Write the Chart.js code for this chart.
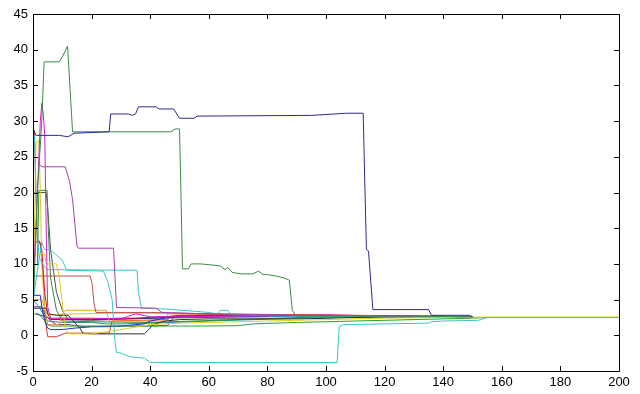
<!DOCTYPE html>
<html>
<head>
<meta charset="utf-8">
<script src="https://cdn.jsdelivr.net/npm/chart.js@4/dist/chart.umd.min.js"></script>
<style>
  body { margin: 0; background: #fff; }
  canvas { display: block; }
</style>
</head>
<body>
<canvas id="runs" width="640" height="394"></canvas>
<script>
// tick values
const xTicks = [0, 20, 40, 60, 80, 100, 120, 140, 160, 180, 200];
const yTicks = [-5, 0, 5, 10, 15, 20, 25, 30, 35, 40, 45];

// one run per pair of arrays (iteration, value)
const navyX = [0, 1, 9, 12, 14, 26, 26.5, 32.5, 34, 35, 36, 42, 43, 48, 50, 55, 56, 95, 107, 112.7, 113.2, 113.8, 114.5, 116, 135, 136, 149, 150];
const navyY = [29, 28, 28, 27.8, 28.3, 28.5, 31, 31, 30.8, 31, 32, 32, 31.7, 31.7, 30.4, 30.4, 30.7, 30.8, 31.1, 31.1, 22, 12, 11.8, 3.6, 3.6, 2.8, 2.8, 2.6];

const greenX = [0, 1.5, 3, 3.8, 9, 10, 11.8, 13.5, 47, 48.5, 50, 50.5, 51, 53, 54, 57, 60, 64, 65.5, 66.5, 68, 71, 75, 77, 78.5, 80, 83, 86, 87.5, 88.5, 89.8, 120, 150];
const greenY = [3, 20, 30, 38.3, 38.3, 39, 40.5, 28.5, 28.5, 28.9, 28.9, 20, 9.3, 9.3, 10, 10, 9.9, 9.7, 9.2, 9.5, 8.8, 8.6, 8.6, 9, 8.5, 8.5, 8.3, 8.0, 7.7, 3.5, 2.7, 2.7, 2.6];

const purpleX = [2, 3, 11, 12.5, 13.5, 14.2, 15, 15.5, 27.5, 28, 28.5, 42, 44, 60, 80, 100, 130, 150];
const purpleY = [24, 23.6, 23.6, 21.5, 19, 16, 12.5, 12.2, 12.2, 8, 3.9, 3.8, 3.2, 3.0, 2.9, 2.8, 2.7, 2.6];

const magentaX = [0, 1.5, 2.5, 3, 3.5, 4, 4.5, 5, 6, 10, 20, 30, 35, 40, 50, 70, 100, 130, 148];
const magentaY = [6, 20, 30, 32.5, 31, 28, 15, 4, 2.4, 2.4, 2.4, 2.3, 3, 2.6, 2.6, 2.7, 2.8, 2.7, 2.6];

const cyanX = [0, 3, 4, 6, 10, 11.5, 24, 25.5, 27, 27.5, 28, 28.5, 30, 33, 38, 40, 103.8, 104.5, 106, 120, 135, 136, 140, 152, 155, 200];
const cyanY = [5, 13, 12, 12, 10.5, 9.1, 9.0, 7.5, 5, 2, -1, -2.4, -2.5, -3, -3.2, -3.8, -3.8, 1.2, 1.5, 1.6, 1.7, 1.9, 2.0, 2.1, 2.48, 2.48];

const cyan2X = [0.5, 1, 2, 4, 4.8, 35.5, 36, 37, 45, 60, 63, 64, 66.5, 67.5, 80, 100, 120, 140, 152];
const cyan2Y = [28, 20, 11, 9.5, 9.2, 9.1, 6, 3.8, 3.7, 3.2, 3.0, 3.5, 3.5, 2.9, 2.7, 2.6, 2.7, 2.6, 2.5];

const brownX = [0, 19.5, 20.2, 20.8, 21.5, 40, 60, 90, 120, 150];
const brownY = [8.3, 8.3, 7.2, 4.5, 3.2, 3.2, 3.0, 2.8, 2.7, 2.6];

const redX = [1, 2, 3, 4, 5, 6, 15, 20, 30, 35, 40, 45, 50, 60, 80, 100, 120, 150];
const redY = [13, 13.3, 12, 6, 3, 2.3, 2.3, 2.3, 2.4, 2.4, 2.5, 2.6, 2.8, 2.85, 2.85, 2.85, 2.75, 2.6];

const blueX = [0, 2.5, 3, 4, 5, 6, 10, 14, 20, 25, 30, 38, 40, 45, 50, 60, 80, 100, 120, 145];
const blueY = [5.6, 5.6, 4, 2, 1, 0.8, 0.8, 1.0, 1.2, 1.2, 1.3, 1.6, 2.0, 2.4, 2.7, 2.8, 2.7, 2.7, 2.6, 2.6];

const blackX = [0, 4.5, 5, 8, 12, 16, 17, 20, 25, 30, 38, 39.5, 41, 45, 50, 60, 80, 92, 120, 150];
const blackY = [3.8, 3.8, 3, 2.8, 2.8, 1.0, 0.3, 0.2, 0.2, 0.2, 0.2, 0.8, 1.5, 2.0, 2.2, 2.3, 2.3, 2.3, 2.6, 2.6];

const yellowX = [0, 4, 4.5, 8, 9, 10, 11, 12, 13, 20, 30, 40, 50, 60, 80, 100, 120, 155, 200];
const yellowY = [11.4, 11.4, 10, 10, 8, 4.5, 1, 0.3, 0.2, 0.2, 0.8, 1.5, 1.7, 1.8, 2.0, 2.2, 2.4, 2.55, 2.55];

const yellow2X = [0, 1, 2, 2.5, 3, 4, 5, 8, 14, 30, 60, 100, 140];
const yellow2Y = [2, 27, 27.3, 20, 10, 3.5, 2.9, 2.9, 3.0, 3.1, 3.0, 2.8, 2.6];

const orangeX = [0, 3, 4, 5, 9, 10, 11, 12, 25, 26, 35, 45, 46, 60, 90, 120, 150];
const orangeY = [5, 5, 3.8, 1.5, 1.5, 3, 3.5, 3.5, 3.5, 2, 2, 2, 3, 3.0, 2.9, 2.7, 2.6];

const greenBX = [0, 2, 3, 5, 6, 15, 30, 50, 60, 70, 75, 90, 110, 130, 150, 155, 200];
const greenBY = [3, 3, 2.5, 1.5, 1.3, 1.3, 1.3, 1.3, 1.3, 1.35, 1.6, 1.8, 2.0, 2.2, 2.4, 2.5, 2.5];

const greenCX = [1.5, 2, 4.8, 5.2, 6, 8, 10, 20, 40, 70, 100, 130];
const greenCY = [10, 20.3, 20.3, 15, 8, 3.5, 2.0, 1.9, 1.8, 2.2, 2.6, 2.6];

const tealX = [0, 2, 5, 10, 20, 25, 30, 40, 60, 100, 150];
const tealY = [5, 4, 2, 1.8, 1.8, 1.6, 1.6, 1.7, 2.0, 2.5, 2.6];

const purple2X = [0, 3, 4, 6, 8, 12, 18, 30, 40, 46, 48, 60, 100, 150];
const purple2Y = [4, 4, 3, 2, 1.5, 1.5, 1.2, 1.3, 1.3, 1.4, 2.5, 2.8, 2.8, 2.6];

const darkBlueX = [1, 5, 6, 20, 30, 40, 45, 60, 100, 140];
const darkBlueY = [3, 2.5, 2.2, 2.2, 2.3, 2.4, 2.5, 2.7, 2.7, 2.6];

const red2X = [0, 0.5, 1, 1.5, 2.5, 3.5, 4, 5, 8, 11, 26, 27, 46, 47, 60, 100];
const red2Y = [29, 28.5, 20, 13.3, 13, 8, 3, -0.2, -0.2, 0.3, 0.3, 2.0, 2.2, 2.6, 2.8, 2.7];

const grayX = [0.5, 4.5, 5, 6, 8, 10, 12, 20, 40, 80, 120];
const grayY = [20, 20, 18, 12, 6, 3.5, 2.2, 2.1, 2.4, 2.6, 2.6];

const runs = [
  [navyX, navyY, '#2b2b8c'],
  [greenX, greenY, '#3d8a45'],
  [purpleX, purpleY, '#a43fb0'],
  [magentaX, magentaY, '#d020d0'],
  [yellowX, yellowY, '#d8d020'],
  [greenBX, greenBY, '#2ca02c'],
  [cyanX, cyanY, '#3cc4c8'],
  [cyan2X, cyan2Y, '#3cc4c8'],
  [brownX, brownY, '#c0504a'],
  [redX, redY, '#e8101a'],
  [blueX, blueY, '#1a2ae0'],
  [blackX, blackY, '#303030'],
  [yellow2X, yellow2Y, '#d8c820'],
  [orangeX, orangeY, '#e8a030'],
  [greenCX, greenCY, '#2e8b3a'],
  [tealX, tealY, '#2a9090'],
  [purple2X, purple2Y, '#7a3fa0'],
  [darkBlueX, darkBlueY, '#20208a'],
  [red2X, red2Y, '#d83828'],
  [grayX, grayY, '#505050']
];

var datasets = runs.map(function (r, i) {
  return {
    label: 'run ' + (i + 1),
    data: r[0].map(function (x, k) { return { x: x, y: r[1][k] }; }),
    borderColor: r[2],
    backgroundColor: r[2],
    borderWidth: 1,
    pointRadius: 0,
    tension: 0,
    fill: false
  };
});

// matlab-like box with inward ticks on all four sides
const boxTicks = {
  id: 'boxTicks',
  afterDraw: function (chart) {
    const a = chart.chartArea;
    const ctx = chart.ctx;
    const sx = chart.scales.x, sy = chart.scales.y;
    const len = 5;
    ctx.save();
    ctx.strokeStyle = '#000';
    ctx.lineWidth = 1;
    ctx.beginPath();
    ctx.rect(Math.round(a.left) + 0.5, Math.round(a.top) + 0.5, Math.round(a.right - a.left), Math.round(a.bottom - a.top));
    xTicks.forEach(function (v) {
      const px = Math.round(sx.getPixelForValue(v)) + 0.5;
      ctx.moveTo(px, a.bottom); ctx.lineTo(px, a.bottom - len);
      ctx.moveTo(px, a.top); ctx.lineTo(px, a.top + len);
    });
    yTicks.forEach(function (v) {
      const py = Math.round(sy.getPixelForValue(v)) + 0.5;
      ctx.moveTo(a.left, py); ctx.lineTo(a.left + len, py);
      ctx.moveTo(a.right, py); ctx.lineTo(a.right - len, py);
    });
    ctx.stroke();
    ctx.restore();
  }
};

const tickFont = { family: '"Liberation Sans", Arial, sans-serif', size: 13 };

new Chart(document.getElementById('runs'), {
  type: 'line',
  data: { datasets: datasets },
  options: {
    responsive: false,
    animation: false,
    layout: { padding: { left: 0, top: 14, right: 21, bottom: 0 } },
    plugins: { legend: { display: false }, tooltip: { enabled: false } },
    scales: {
      x: {
        type: 'linear',
        min: 0,
        max: 200,
        afterFit: function (s) { s.height = 23; },
        afterBuildTicks: function (s) { s.ticks = xTicks.map(function (v) { return { value: v }; }); },
        ticks: { color: '#000', font: tickFont, padding: 4, maxRotation: 0, autoSkip: false },
        grid: { display: false, drawTicks: false },
        border: { display: false }
      },
      y: {
        type: 'linear',
        min: -5,
        max: 45,
        afterFit: function (s) { s.width = 33; },
        afterBuildTicks: function (s) { s.ticks = yTicks.map(function (v) { return { value: v }; }); },
        ticks: { color: '#000', font: tickFont, padding: 5, autoSkip: false },
        grid: { display: false, drawTicks: false },
        border: { display: false }
      }
    }
  },
  plugins: [boxTicks]
});
</script>
</body>
</html>
